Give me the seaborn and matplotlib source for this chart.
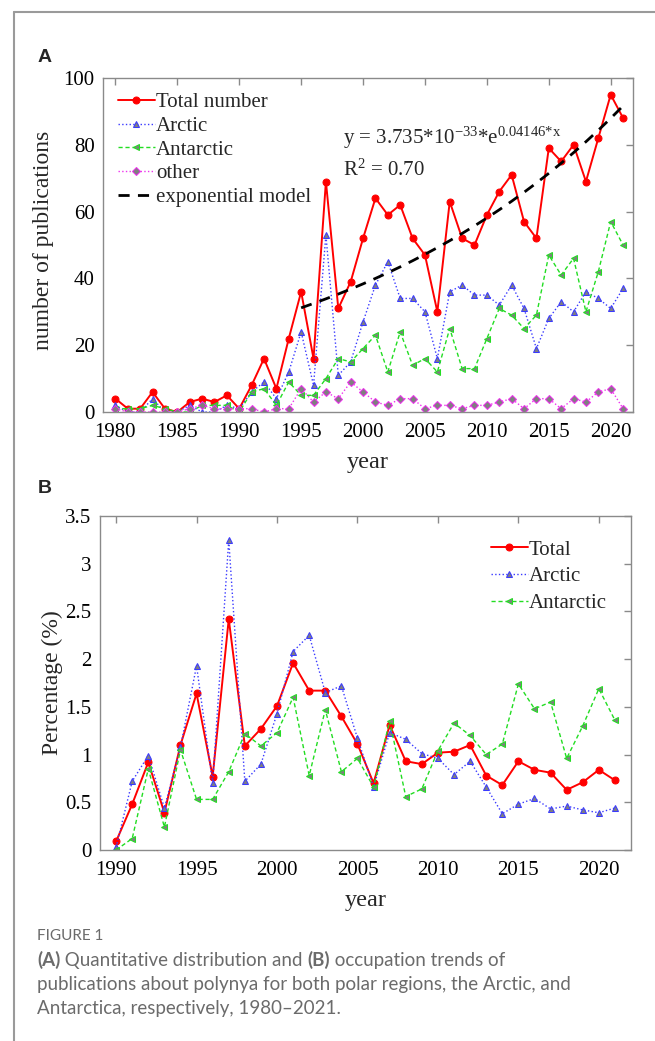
import numpy as np
import pandas as pd
import seaborn as sns
import matplotlib
matplotlib.use("Agg")
from matplotlib import pyplot as plt
from matplotlib.lines import Line2D
from matplotlib.ticker import FuncFormatter

# ---- panel A: number of publications per year ----
years_a = list(range(1980, 2022))
total_a = [4, 1, 1, 6, 1, 0, 3, 4, 3, 5, 1, 8, 16, 7, 22, 36, 16, 69, 31, 39,
           52, 64, 59, 62, 52, 47, 30, 63, 52, 50, 59, 66, 71, 57, 52, 79, 75, 80,
           69, 82, 95, 88]
arctic_a = [2, 0, 0, 4, 0, 0, 2, 0, 0, 2, 1, 6, 9, 4, 12, 24, 8, 53, 11, 15,
            27, 38, 45, 34, 34, 30, 16, 36, 38, 35, 35, 32, 38, 31, 19, 28, 33, 30,
            36, 34, 31, 37]
antarctic_a = [1, 1, 1, 2, 1, 0, 0, 2, 2, 2, 0, 6, 7, 2, 9, 5, 5, 10, 16, 15,
               19, 23, 12, 24, 14, 16, 12, 25, 13, 13, 22, 31, 29, 25, 29, 47, 41, 46,
               30, 42, 57, 50]
other_a = [1, 0, 0, 0, 0, 0, 1, 2, 1, 1, 1, 1, 0, 1, 1, 7, 3, 6, 4, 9,
           6, 3, 2, 4, 4, 1, 2, 2, 1, 2, 2, 3, 4, 1, 4, 4, 1, 4, 3, 6, 7, 1]

# exponential model drawn over 1995-2021
model_years = list(range(1995, 2022))
model_a = 3.735e-35
model_b = 0.04146

# ---- panel B: percentage ----
years_b = list(range(1990, 2022))
total_b = [0.09, 0.48, 0.92, 0.39, 1.10, 1.64, 0.77, 2.42, 1.09, 1.27, 1.51,
           1.96, 1.67, 1.67, 1.40, 1.11, 0.70, 1.31, 0.93, 0.90, 1.02, 1.03,
           1.10, 0.78, 0.68, 0.93, 0.84, 0.81, 0.63, 0.71, 0.84, 0.73]
arctic_b = [0.03, 0.72, 0.99, 0.44, 1.08, 1.93, 0.70, 3.25, 0.72, 0.90, 1.43,
            2.08, 2.25, 1.65, 1.72, 1.17, 0.66, 1.23, 1.16, 1.01, 0.96, 0.79,
            0.93, 0.66, 0.38, 0.48, 0.54, 0.43, 0.46, 0.42, 0.39, 0.44]
antarctic_b = [0.00, 0.12, 0.85, 0.24, 1.05, 0.53, 0.53, 0.82, 1.22, 1.09, 1.23,
               1.60, 0.78, 1.47, 0.82, 0.96, 0.66, 1.35, 0.56, 0.64, 1.04, 1.33,
               1.20, 1.00, 1.11, 1.74, 1.48, 1.55, 0.96, 1.30, 1.69, 1.36]

sns.set_style("white")
plt.rcParams['font.family'] = ['Liberation Serif', 'DejaVu Serif']
plt.rcParams['mathtext.fontset'] = 'custom'
plt.rcParams['mathtext.rm'] = 'Liberation Serif'
plt.rcParams['mathtext.it'] = 'Liberation Serif'

GRAY = '#8a8a8a'
MFACE = '#7f7f7f'

fig = plt.figure(figsize=(6.55, 10.41), dpi=100)
axA = fig.add_axes([0.1573, 0.6042, 0.8091, 0.3209])
axB = fig.add_axes([0.1527, 0.1835, 0.8107, 0.3208])

dfA = pd.DataFrame({"year": years_a, "total": total_a, "arctic": arctic_a,
                    "antarctic": antarctic_a, "other": other_a})
dfM = pd.DataFrame({"year": model_years})
dfM["fit"] = model_a * np.exp(model_b * dfM["year"])

styles = {
    "total": dict(color='red', linestyle='-', marker='o', markersize=5,
                  markerfacecolor='red', markeredgecolor='red', linewidth=1.4),
    "arctic": dict(color='#3a3aff', linestyle=':', marker='^', markersize=5,
                   markerfacecolor=MFACE, markeredgecolor='#3a3aff', linewidth=1.0),
    "antarctic": dict(color='#22dd22', linestyle=(0, (3, 2)), marker='<', markersize=5,
                      markerfacecolor=MFACE, markeredgecolor='#22dd22', linewidth=1.0),
    "other": dict(color='#ee33ee', linestyle=':', marker='D', markersize=4,
                  markerfacecolor=MFACE, markeredgecolor='#ee33ee', linewidth=1.0),
}

sns.lineplot(data=dfA, x="year", y="total", ax=axA, label="Total number", **styles["total"])
sns.lineplot(data=dfA, x="year", y="arctic", ax=axA, label="Arctic", **styles["arctic"])
sns.lineplot(data=dfA, x="year", y="antarctic", ax=axA, label="Antarctic", **styles["antarctic"])
sns.lineplot(data=dfA, x="year", y="other", ax=axA, label="other", **styles["other"])
sns.lineplot(data=dfM, x="year", y="fit", ax=axA, label="exponential model",
             color='black', linestyle=(0, (4, 3)), linewidth=2.0)

dfB = pd.DataFrame({"year": years_b, "total": total_b, "arctic": arctic_b,
                    "antarctic": antarctic_b})
sns.lineplot(data=dfB, x="year", y="total", ax=axB, label="Total", **styles["total"])
sns.lineplot(data=dfB, x="year", y="arctic", ax=axB, label="Arctic", **styles["arctic"])
sns.lineplot(data=dfB, x="year", y="antarctic", ax=axB, label="Antarctic", **styles["antarctic"])


def num_fmt(v, pos):
    return f"{v:g}"


for ax in (axA, axB):
    for s in ax.spines.values():
        s.set_color(GRAY)
        s.set_linewidth(1.0)
    ax.tick_params(direction='in', top=True, right=True, length=5, width=1,
                   color=GRAY, labelsize=15, labelcolor='black')
    ax.tick_params(axis='x', pad=8)
    ax.tick_params(axis='y', pad=6)
    ax.yaxis.set_major_formatter(FuncFormatter(num_fmt))

axA.set_xlim(1979, 2021.8)
axA.set_ylim(0, 100)
axA.set_xticks(range(1980, 2021, 5))
axA.set_yticks(range(0, 101, 20))
axA.set_xlabel("year", fontsize=17.5, labelpad=7)
axA.set_ylabel("number of publications", fontsize=17)
axA.yaxis.set_label_coords(-0.092, 0.515)
axA.legend(loc='upper left', frameon=False, fontsize=15, handlelength=1.8,
           handletextpad=0.05, labelspacing=0.2, borderaxespad=0.3,
           bbox_to_anchor=(0.0, 1.0))
axA.text(0.452, 0.82, r"y = 3.735*10$^{\mathrm{-33}}$*e$^{\mathrm{0.04146{*}x}}$",
         transform=axA.transAxes, fontsize=15, ha='left', va='center')
axA.text(0.452, 0.725, r"R$^{2}$ = 0.70", transform=axA.transAxes,
         fontsize=15, ha='left', va='center')

axB.set_xlim(1989, 2022)
axB.set_ylim(0, 3.5)
axB.set_xticks(range(1990, 2021, 5))
axB.set_yticks(np.arange(0, 3.51, 0.5))
axB.set_xlabel("year", fontsize=17.5, labelpad=7)
axB.set_ylabel("Percentage (%)", fontsize=17)
axB.yaxis.set_label_coords(-0.07, 0.5)
axB.legend(loc='upper right', frameon=False, fontsize=15, handlelength=1.8,
           handletextpad=0.05, labelspacing=0.35, borderaxespad=0.75)

# panel letters
fig.text(38 / 655, 1 - 57 / 1041, "A", fontsize=14, fontweight='bold',
         family=['Liberation Sans', 'DejaVu Sans'], va='center', ha='left')
fig.text(38 / 655, 1 - 488 / 1041, "B", fontsize=14, fontweight='bold',
         family=['Liberation Sans', 'DejaVu Sans'], va='center', ha='left')

# page frame
fig.add_artist(Line2D([14 / 655, 14 / 655], [0, 1 - 12 / 1041], transform=fig.transFigure,
                      color='#9a9a9a', linewidth=1.5))
fig.add_artist(Line2D([14 / 655, 1], [1 - 12 / 1041, 1 - 12 / 1041], transform=fig.transFigure,
                      color='#9a9a9a', linewidth=1.5))

# caption
cap_font = ['Lato', 'DejaVu Sans']
cap_color = '#6b6b6b'
cap_size = 13.5
fig.text(37 / 655, 1 - 936 / 1041, "FIGURE 1", fontsize=11, color=cap_color,
         family=cap_font, va='center', ha='left')

t1 = fig.text(37 / 655, 1 - 966 / 1041, "(A)", fontsize=cap_size, color=cap_color,
              family=cap_font, fontweight='bold', va='baseline', ha='left')
t2 = fig.text(0, 0, " Quantitative distribution and ", fontsize=cap_size, color=cap_color,
              family=cap_font, va='baseline', ha='left')
t3 = fig.text(0, 0, "(B)", fontsize=cap_size, color=cap_color,
              family=cap_font, fontweight='bold', va='baseline', ha='left')
t4 = fig.text(0, 0, " occupation trends of", fontsize=cap_size, color=cap_color,
              family=cap_font, va='baseline', ha='left')
fig.canvas.draw()
r = fig.canvas.get_renderer()
prev = t1
for t in (t2, t3, t4):
    bb = prev.get_window_extent(renderer=r)
    x0 = bb.x1 / fig.bbox.width
    t.set_position((x0, prev.get_position()[1]))
    fig.canvas.draw()
    prev = t

fig.text(37 / 655, 1 - 990 / 1041,
         "publications about polynya for both polar regions, the Arctic, and",
         fontsize=cap_size, color=cap_color, family=cap_font, va='baseline', ha='left')
fig.text(37 / 655, 1 - 1014 / 1041, "Antarctica, respectively, 1980\u20132021.",
         fontsize=cap_size, color=cap_color, family=cap_font, va='baseline', ha='left')

fig.savefig("out.png", dpi=100)
